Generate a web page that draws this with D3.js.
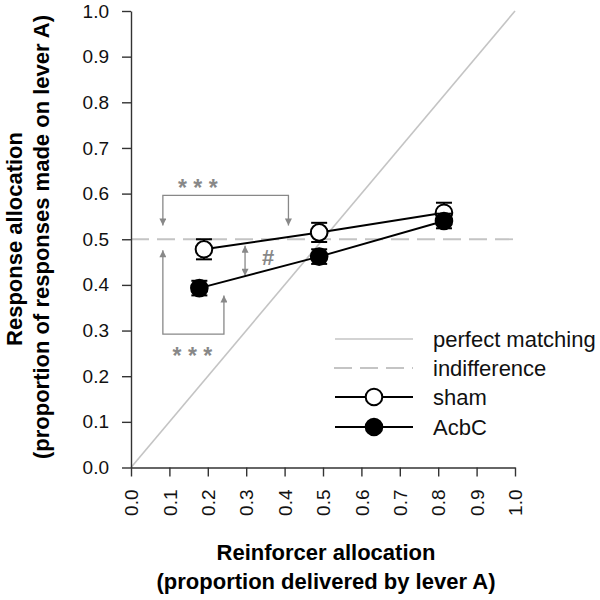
<!DOCTYPE html>
<html><head><meta charset="utf-8">
<script src="https://cdn.jsdelivr.net/npm/d3@7"></script>
<style>body{margin:0;background:#fff;} text{font-family:"Liberation Sans",Arial,sans-serif;}</style>
</head><body>
<svg id="c" width="600" height="600"></svg>
<script>
// Data
const reinforcer = [0.19, 0.49, 0.815];
const shamValues = [0.478, 0.515, 0.558];
const shamErr = [0.022, 0.021, 0.022];
const acbcX = [0.178, 0.49, 0.815];
const acbcValues = [0.393, 0.462, 0.540];
const acbcErr = [0.016, 0.016, 0.016];
const tickValues = [0, 0.1, 0.2, 0.3, 0.4, 0.5, 0.6, 0.7, 0.8, 0.9, 1.0];
const legendLabels = ["perfect matching", "indifference", "sham", "AcbC"];

const svg = d3.select("#c");
const x = d3.scaleLinear().domain([0, 1]).range([131, 515]);
const y = d3.scaleLinear().domain([0, 1]).range([467.5, 11]);
const gray = "#888";

// reference lines
svg.append("line").attr("x1", x(0)).attr("y1", y(0)).attr("x2", x(1)).attr("y2", y(1))
  .attr("stroke", "#c4c4c4").attr("stroke-width", 1.6);
svg.append("line").attr("x1", x(0)).attr("y1", y(0.5)).attr("x2", x(1)).attr("y2", y(0.5))
  .attr("stroke", "#c4c4c4").attr("stroke-width", 1.8).attr("stroke-dasharray", "18,8");

// axes
const yAxis = d3.axisLeft(y).tickValues(tickValues).tickFormat(d3.format(".1f")).tickSize(9).tickSizeOuter(0).tickPadding(13);
const gy = svg.append("g").attr("transform", `translate(${x(0)},0)`).call(yAxis);
gy.selectAll("text").attr("font-size", 19).attr("fill", "#111");
const xAxis = d3.axisBottom(x).tickValues(tickValues).tickFormat(d3.format(".1f")).tickSize(9).tickSizeOuter(0);
const gx = svg.append("g").attr("transform", `translate(0,${y(0)})`).call(xAxis);
gx.selectAll("text").attr("font-size", 19).attr("fill", "#111")
  .attr("transform", "rotate(-90)").attr("x", -22).attr("y", 0).attr("dy", "0.35em").attr("text-anchor", "end");
svg.selectAll(".domain, .tick line").attr("stroke", "#333").attr("stroke-width", 1.4);

// axis titles
svg.append("text").attr("x", 326).attr("y", 560).attr("text-anchor", "middle").attr("font-size", 22).attr("font-weight", "bold").text("Reinforcer allocation");
svg.append("text").attr("x", 326).attr("y", 589).attr("text-anchor", "middle").attr("font-size", 22).attr("font-weight", "bold").text("(proportion delivered by lever A)");
svg.append("text").attr("transform", "translate(22,239) rotate(-90)").attr("text-anchor", "middle").attr("font-size", 22).attr("font-weight", "bold").text("Response allocation");
svg.append("text").attr("transform", "translate(49,237) rotate(-90)").attr("text-anchor", "middle").attr("font-size", 22).attr("font-weight", "bold").text("(proportion of responses made on lever A)");

// annotations
const defs = svg.append("defs");
defs.append("marker").attr("id", "ah").attr("viewBox", "0 0 10 10").attr("refX", 10).attr("refY", 5)
  .attr("markerWidth", 9).attr("markerHeight", 7).attr("markerUnits", "userSpaceOnUse").attr("orient", "auto-start-reverse")
  .append("path").attr("d", "M0,0 L10,5 L0,10 Z").attr("fill", gray);
const ann = svg.append("g").attr("stroke", gray).attr("stroke-width", 1.3).attr("fill", "none");
const line = d3.line().x(d => x(d[0])).y(d => y(d[1]));
ann.append("path").attr("d", line([[0.083, 0.53], [0.083, 0.596], [0.41, 0.596], [0.41, 0.53]]))
  .attr("marker-end", "url(#ah)").attr("marker-start", "url(#ah)");
ann.append("path").attr("d", line([[0.083, 0.476], [0.083, 0.292], [0.242, 0.292], [0.242, 0.377]]))
  .attr("marker-end", "url(#ah)").attr("marker-start", "url(#ah)");
ann.append("path").attr("d", line([[0.297, 0.486], [0.297, 0.42]]))
  .attr("marker-end", "url(#ah)").attr("marker-start", "url(#ah)");
svg.append("text").attr("x", x(0.174)).attr("y", 196).attr("text-anchor", "middle").attr("font-size", 23).attr("fill", gray).attr("font-weight", "bold").text("* * *");
svg.append("text").attr("x", x(0.16)).attr("y", 364).attr("text-anchor", "middle").attr("font-size", 23).attr("fill", gray).attr("font-weight", "bold").text("* * *");
svg.append("text").attr("x", x(0.357)).attr("y", 265).attr("text-anchor", "middle").attr("font-size", 22).attr("fill", gray).attr("font-weight", "bold").text("#");

// series
function series(xs, ys, es, fill) {
  const pts = xs.map((v, i) => ({ x: v, y: ys[i], e: es[i] }));
  svg.append("path").attr("d", line(pts.map(p => [p.x, p.y]))).attr("stroke", "#000").attr("stroke-width", 2).attr("fill", "none");
  const g = svg.append("g").attr("stroke", "#000").attr("stroke-width", 2);
  pts.forEach(p => {
    g.append("line").attr("x1", x(p.x)).attr("x2", x(p.x)).attr("y1", y(p.y - p.e)).attr("y2", y(p.y + p.e));
    g.append("line").attr("x1", x(p.x) - 8).attr("x2", x(p.x) + 8).attr("y1", y(p.y - p.e)).attr("y2", y(p.y - p.e));
    g.append("line").attr("x1", x(p.x) - 8).attr("x2", x(p.x) + 8).attr("y1", y(p.y + p.e)).attr("y2", y(p.y + p.e));
  });
  g.selectAll("circle.pt").data(pts).join("circle").attr("cx", d => x(d.x)).attr("cy", d => y(d.y)).attr("r", 8.3).attr("fill", fill);
}
series(reinforcer, shamValues, shamErr, "#fff");
series(acbcX, acbcValues, acbcErr, "#000");

// legend
const legY = [339, 368, 397, 427];
const lg = svg.append("g");
legendLabels.forEach((lab, i) => {
  const ln = lg.append("line").attr("x1", 335).attr("x2", 413).attr("y1", legY[i]).attr("y2", legY[i]);
  if (i === 0) ln.attr("stroke", "#c4c4c4").attr("stroke-width", 1.6);
  else if (i === 1) ln.attr("stroke", "#c4c4c4").attr("stroke-width", 1.8).attr("stroke-dasharray", "18,8").attr("x1", 334);
  else {
    ln.attr("stroke", "#000").attr("stroke-width", 2);
    lg.append("circle").attr("cx", 374).attr("cy", legY[i]).attr("r", 8.3).attr("stroke", "#000").attr("stroke-width", 2).attr("fill", i === 2 ? "#fff" : "#000");
  }
  lg.append("text").attr("x", 433).attr("y", legY[i]).attr("dy", "0.35em").attr("font-size", 22).attr("fill", "#111").text(lab);
});
</script>
</body></html>
